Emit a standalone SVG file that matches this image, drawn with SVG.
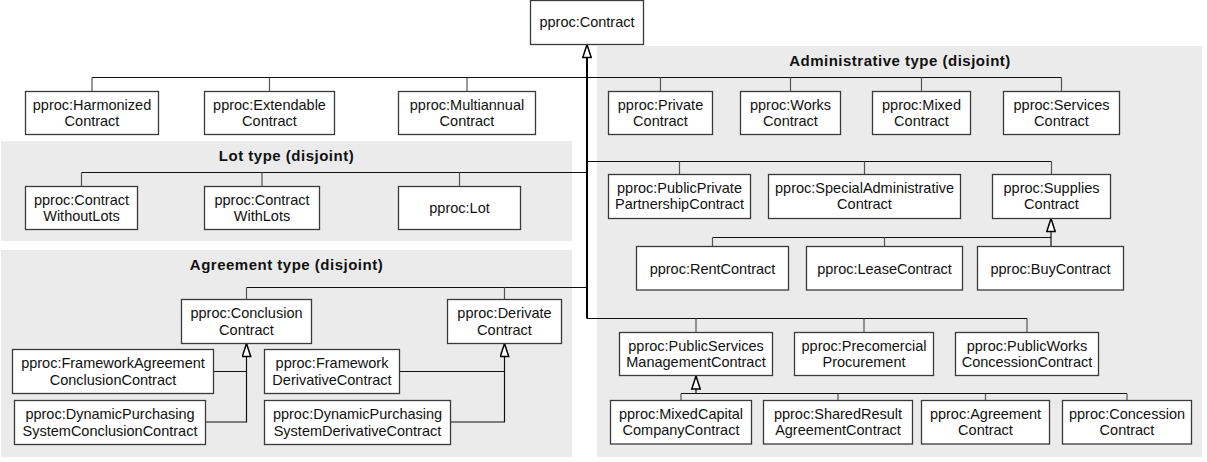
<svg xmlns="http://www.w3.org/2000/svg" width="1207" height="462" viewBox="0 0 1207 462">
<style>
.panel{fill:#ebebeb;stroke:none}
.box{fill:#fff;stroke:#3a3a3a;stroke-width:1.3}
.t{font-family:"Liberation Sans",Arial,sans-serif;font-size:14.5px;fill:#111;text-anchor:middle}
.title{font-family:"Liberation Sans",Arial,sans-serif;font-size:15px;font-weight:bold;letter-spacing:0.5px;fill:#111;text-anchor:middle}
.ln{fill:none;stroke:#111;stroke-width:1.2}
.drop{fill:none;stroke:#555;stroke-width:1.2}
.trunk{fill:none;stroke:#000;stroke-width:2}
</style>
<defs>
<marker id="gen" viewBox="0 0 15 10" refX="14" refY="5" markerWidth="15" markerHeight="10" markerUnits="userSpaceOnUse" orient="auto">
<path d="M1,0.8 L14,5 L1,9.2 Z" fill="#fff" stroke="#000" stroke-width="1.5"/>
</marker>
</defs>
<rect width="1207" height="462" fill="#fff"/>
<g id="panels">
<rect class="panel" x="1" y="141" width="571" height="100"/>
<rect class="panel" x="1" y="250" width="571" height="207"/>
<rect class="panel" x="597" y="46" width="605" height="411"/>
<text class="title" x="286.5" y="161">Lot type (disjoint)</text>
<text class="title" x="286.5" y="270">Agreement type (disjoint)</text>
<text class="title" x="900" y="66">Administrative type (disjoint)</text>
</g>
<g id="connectors">
<path class="ln" d="M92,77.5 H1061.5"/>
<path class="drop" d="M92,77.5 V91.5 M269.5,77.5 V91.5 M467,77.5 V91.5 M660.5,77.5 V91.5 M790.5,77.5 V91.5 M921.5,77.5 V91.5 M1061.5,77.5 V91.5"/>
<path class="ln" d="M81.5,172.5 H587"/>
<path class="drop" d="M81.5,172.5 V186.5 M262,172.5 V186.5 M459.5,172.5 V186.5"/>
<path class="ln" d="M587,161.5 H1051.5"/>
<path class="drop" d="M679.5,161.5 V174.5 M864.5,161.5 V174.5 M1051.5,161.5 V174.5"/>
<path class="ln" d="M246.5,287.5 H587"/>
<path class="drop" d="M246.5,287.5 V299.5 M504.5,287.5 V299.5"/>
<path class="ln" d="M587,318.5 H1027"/>
<path class="drop" d="M696,318.5 V332.5 M864,318.5 V332.5 M1027,318.5 V332.5"/>
<path class="trunk" d="M587,318.5 V44.5" marker-end="url(#gen)"/>
<path class="ln" d="M712.5,237.5 H1051"/>
<path class="drop" d="M712.5,237.5 V246.5 M884.5,237.5 V246.5"/>
<path class="ln" d="M1051,246.5 V218.5" marker-end="url(#gen)"/>
<path class="ln" d="M681,393.5 H1127"/>
<path class="drop" d="M681,393.5 V400.5 M838,393.5 V400.5 M985.5,393.5 V400.5 M1127,393.5 V400.5"/>
<path class="ln" d="M696,393.5 V376" marker-end="url(#gen)"/>
<path class="ln" d="M213.5,371.5 H246.5"/>
<path class="ln" d="M205.5,422 H246.5 V343.5" marker-end="url(#gen)"/>
<path class="ln" d="M399.5,371.5 H504.5"/>
<path class="ln" d="M450.5,422 H504.5 V343.5" marker-end="url(#gen)"/>
</g>
<g id="contract"><rect class="box" x="530.5" y="0.5" width="113" height="44"/><text class="t" x="587" y="27">pproc:Contract</text></g>
<g id="harmonized"><rect class="box" x="25.5" y="91.5" width="133" height="43"/><text class="t" x="92" y="110">pproc:Harmonized</text><text class="t" x="92" y="126">Contract</text></g>
<g id="extendable"><rect class="box" x="204.5" y="91.5" width="130" height="43"/><text class="t" x="269.5" y="110">pproc:Extendable</text><text class="t" x="269.5" y="126">Contract</text></g>
<g id="multiannual"><rect class="box" x="398.5" y="91.5" width="137" height="43"/><text class="t" x="467" y="110">pproc:Multiannual</text><text class="t" x="467" y="126">Contract</text></g>
<g id="private"><rect class="box" x="608.5" y="91.5" width="104" height="43"/><text class="t" x="660.5" y="110">pproc:Private</text><text class="t" x="660.5" y="126">Contract</text></g>
<g id="works"><rect class="box" x="740.5" y="91.5" width="100" height="43"/><text class="t" x="790.5" y="110">pproc:Works</text><text class="t" x="790.5" y="126">Contract</text></g>
<g id="mixed"><rect class="box" x="872.5" y="91.5" width="98" height="43"/><text class="t" x="921.5" y="110">pproc:Mixed</text><text class="t" x="921.5" y="126">Contract</text></g>
<g id="services"><rect class="box" x="1003.5" y="91.5" width="116" height="43"/><text class="t" x="1061.5" y="110">pproc:Services</text><text class="t" x="1061.5" y="126">Contract</text></g>
<g id="withoutlots"><rect class="box" x="25.5" y="186.5" width="112" height="43"/><text class="t" x="81.5" y="205">pproc:Contract</text><text class="t" x="81.5" y="221">WithoutLots</text></g>
<g id="withlots"><rect class="box" x="204.5" y="186.5" width="115" height="43"/><text class="t" x="262" y="205">pproc:Contract</text><text class="t" x="262" y="221">WithLots</text></g>
<g id="lot"><rect class="box" x="398.5" y="186.5" width="122" height="43"/><text class="t" x="459.5" y="213">pproc:Lot</text></g>
<g id="publicprivate"><rect class="box" x="608.5" y="174.5" width="142" height="44"/><text class="t" x="679.5" y="192.5">pproc:PublicPrivate</text><text class="t" x="679.5" y="209">PartnershipContract</text></g>
<g id="specialadmin"><rect class="box" x="768.5" y="174.5" width="192" height="44"/><text class="t" x="864.5" y="192.5">pproc:SpecialAdministrative</text><text class="t" x="864.5" y="209">Contract</text></g>
<g id="supplies"><rect class="box" x="992.5" y="174.5" width="118" height="44"/><text class="t" x="1051.5" y="192.5">pproc:Supplies</text><text class="t" x="1051.5" y="209">Contract</text></g>
<g id="rent"><rect class="box" x="636.5" y="246.5" width="152" height="43.5"/><text class="t" x="712.5" y="273.5">pproc:RentContract</text></g>
<g id="lease"><rect class="box" x="806.5" y="246.5" width="156" height="43.5"/><text class="t" x="884.5" y="273.5">pproc:LeaseContract</text></g>
<g id="buy"><rect class="box" x="977.5" y="246.5" width="146" height="43.5"/><text class="t" x="1050.5" y="273.5">pproc:BuyContract</text></g>
<g id="publicservices"><rect class="box" x="619.5" y="332.5" width="153" height="43"/><text class="t" x="696" y="350.5">pproc:PublicServices</text><text class="t" x="696" y="367">ManagementContract</text></g>
<g id="precomercial"><rect class="box" x="794.5" y="332.5" width="139" height="43"/><text class="t" x="864" y="350.5">pproc:Precomercial</text><text class="t" x="864" y="367">Procurement</text></g>
<g id="publicworks"><rect class="box" x="955.5" y="332.5" width="143" height="43"/><text class="t" x="1027" y="350.5">pproc:PublicWorks</text><text class="t" x="1027" y="367">ConcessionContract</text></g>
<g id="mixedcapital"><rect class="box" x="610.5" y="400.5" width="141" height="43.5"/><text class="t" x="681" y="418.5">pproc:MixedCapital</text><text class="t" x="681" y="435">CompanyContract</text></g>
<g id="sharedresult"><rect class="box" x="763.5" y="400.5" width="149" height="43.5"/><text class="t" x="838" y="418.5">pproc:SharedResult</text><text class="t" x="838" y="435">AgreementContract</text></g>
<g id="agreement"><rect class="box" x="921.5" y="400.5" width="128" height="43.5"/><text class="t" x="985.5" y="418.5">pproc:Agreement</text><text class="t" x="985.5" y="435">Contract</text></g>
<g id="concession"><rect class="box" x="1062.5" y="400.5" width="129" height="43.5"/><text class="t" x="1127" y="418.5">pproc:Concession</text><text class="t" x="1127" y="435">Contract</text></g>
<g id="conclusion"><rect class="box" x="181.5" y="299.5" width="130" height="44"/><text class="t" x="246.5" y="318">pproc:Conclusion</text><text class="t" x="246.5" y="334.5">Contract</text></g>
<g id="derivate"><rect class="box" x="447.5" y="299.5" width="114" height="44"/><text class="t" x="504.5" y="318">pproc:Derivate</text><text class="t" x="504.5" y="334.5">Contract</text></g>
<g id="frameworkagreement"><rect class="box" x="12.5" y="349.5" width="201" height="44"/><text class="t" x="113" y="368">pproc:FrameworkAgreement</text><text class="t" x="113" y="384.5">ConclusionContract</text></g>
<g id="dpsconclusion"><rect class="box" x="14.5" y="400.5" width="191" height="44"/><text class="t" x="110" y="419">pproc:DynamicPurchasing</text><text class="t" x="110" y="435.5">SystemConclusionContract</text></g>
<g id="frameworkderivative"><rect class="box" x="264.5" y="349.5" width="135" height="44"/><text class="t" x="332" y="368">pproc:Framework</text><text class="t" x="332" y="384.5">DerivativeContract</text></g>
<g id="dpsderivative"><rect class="box" x="264.5" y="400.5" width="186" height="44"/><text class="t" x="357.5" y="419">pproc:DynamicPurchasing</text><text class="t" x="357.5" y="435.5">SystemDerivativeContract</text></g>
</svg>
